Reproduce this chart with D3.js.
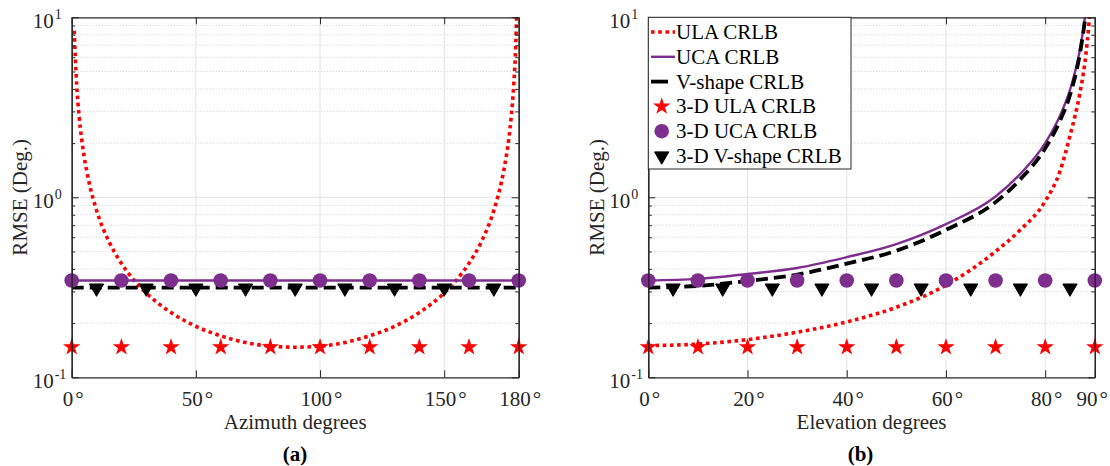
<!DOCTYPE html>
<html><head><meta charset="utf-8">
<script src="https://cdn.jsdelivr.net/npm/d3@7"></script>
<style>
body{margin:0;background:#fff}
text{font-family:"Liberation Serif","Times New Roman",serif}
</style>
</head><body>
<svg id="c" width="1110" height="466"></svg>
<script>
// ---------- data ----------
// Panel (a): azimuth
const azDeg      = [1,2,3,4,5,7,10,15,20,25,30,40,50,60,70,80,90,100,110,120,130,140,150,155,160,165,170,173,175,176,177,178,179,179.5];
const azUlaCrlb  = [8.42,4.21,2.81,2.11,1.69,1.21,0.847,0.568,0.43,0.348,0.294,0.229,0.192,0.170,0.156,0.149,0.147,0.149,0.156,0.170,0.192,0.229,0.294,0.348,0.43,0.568,0.847,1.21,1.69,2.11,2.81,4.21,8.42,16.8];
const azLineDeg  = [0,180];
const azUcaCrlb  = [0.345,0.345];
const azVCrlb    = [0.315,0.315];
const azMarkDeg  = [0,20,40,60,80,100,120,140,160,180];
const az3dUla    = [0.147,0.147,0.147,0.147,0.147,0.147,0.147,0.147,0.147,0.147];
const az3dUca    = [0.345,0.345,0.345,0.345,0.345,0.345,0.345,0.345,0.345,0.345];
const azVMarkDeg = [10,30,50,70,90,110,130,150,170];
const az3dV      = [0.313,0.313,0.313,0.313,0.313,0.313,0.313,0.313,0.313];

// Panel (b): elevation
const elDeg      = [0,10,20,30,40,50,60,70,75,80,83,85,87,88,88.5,89,89.5];
const elUlaCrlb  = [0.150,0.153,0.162,0.178,0.203,0.245,0.325,0.50,0.66,0.95,1.4,2.2,3.8,5.6,7.4,10.6,15];
const elUcaCrlb  = [0.345,0.352,0.375,0.405,0.465,0.55,0.71,1.01,1.35,2.0,2.85,3.95,6.6,9.9,13,17,25];
const elVCrlb    = [0.315,0.322,0.343,0.372,0.428,0.505,0.66,0.94,1.26,1.87,2.67,3.7,6.3,9.6,12.6,16.5,24];
const elMarkDeg  = [0,10,20,30,40,50,60,70,80,90];
const el3dUla    = [0.147,0.147,0.147,0.147,0.147,0.147,0.147,0.147,0.147,0.147];
const el3dUca    = [0.345,0.345,0.345,0.345,0.345,0.345,0.345,0.345,0.345,0.345];
const elVMarkDeg = [5,15,25,35,45,55,65,75,85];
const el3dV      = [0.313,0.313,0.313,0.313,0.313,0.313,0.313,0.313,0.313];

const azTicks = [0,50,100,150,180];
const elTicks = [0,20,40,60,80,90];
const yTicks  = [0.1,1,10];
const yTickExp = ["-1","0","1"];

const legendNames = ["ULA CRLB","UCA CRLB","V-shape CRLB","3-D ULA CRLB","3-D UCA CRLB","3-D V-shape CRLB"];

// ---------- styles ----------
const RED="#ff0000", PURPLE="#7E2F8E", BLACK="#000000", AX="#262626";
const styles = {
  ula:{stroke:RED, width:3.6, dash:"3.6,3.6"},
  uca:{stroke:PURPLE, width:2.4, dash:null},
  v:{stroke:BLACK, width:3.8, dash:"12,6"}
};

const svg = d3.select("#c");
const y = d3.scaleLog().domain([0.1,10]).range([377.3,17.3]);
const FS = 21;

const starSym = d3.symbol(d3.symbolStar, 58);
const triSym  = d3.symbol(d3.symbolTriangle, 88);

function panel(cfg){
  const {x, xTicks, xLabel, tag, tagX, id} = cfg;
  const [x0,x1] = x.range();
  const [yb,yt] = y.range();
  const g = svg.append("g");

  g.append("clipPath").attr("id","clip"+id).append("rect")
    .attr("x",x0).attr("y",yt).attr("width",x1-x0).attr("height",yb-yt);

  // minor horizontal grid (dotted)
  const minor=[];
  for(let k=-1;k<1;k++) for(let m=2;m<=9;m++) minor.push(m*Math.pow(10,k));
  g.append("g").selectAll("line").data(minor).join("line")
    .attr("x1",x0).attr("x2",x1).attr("y1",d=>y(d)).attr("y2",d=>y(d))
    .attr("stroke","#cfcfcf").attr("stroke-width",1).attr("stroke-dasharray","1,2");
  // major horizontal grid
  g.append("g").selectAll("line").data([1]).join("line")
    .attr("x1",x0).attr("x2",x1).attr("y1",d=>y(d)).attr("y2",d=>y(d))
    .attr("stroke","#e3e3e3").attr("stroke-width",1);
  // vertical grid
  g.append("g").selectAll("line").data(xTicks).join("line")
    .attr("x1",d=>x(d)).attr("x2",d=>x(d)).attr("y1",yt).attr("y2",yb)
    .attr("stroke","#e3e3e3").attr("stroke-width",1);

  // lines
  const line = d3.line().x(d=>x(d[0])).y(d=>y(d[1])).curve(d3.curveMonotoneX);
  const lg = g.append("g").attr("clip-path","url(#clip"+id+")");
  cfg.lines.forEach(L=>{
    const st = styles[L.style];
    lg.append("path").datum(L.xs.map((v,i)=>[v,L.ys[i]]))
      .attr("d",line).attr("fill","none")
      .attr("stroke",st.stroke).attr("stroke-width",st.width)
      .attr("stroke-dasharray",st.dash).attr("stroke-linecap","butt");
  });

  // markers
  const mg = g.append("g");
  mg.selectAll(".star").data(cfg.stars.xs.map((v,i)=>[v,cfg.stars.ys[i]])).join("path")
    .attr("d",starSym).attr("fill",RED).attr("stroke",RED).attr("stroke-width",1.2).attr("stroke-linejoin","miter")
    .attr("transform",d=>`translate(${x(d[0])},${y(d[1])})`);
  mg.selectAll(".circ").data(cfg.circles.xs.map((v,i)=>[v,cfg.circles.ys[i]])).join("circle")
    .attr("cx",d=>x(d[0])).attr("cy",d=>y(d[1])).attr("r",7.3).attr("fill",PURPLE);
  mg.selectAll(".tri").data(cfg.tris.xs.map((v,i)=>[v,cfg.tris.ys[i]])).join("path")
    .attr("d",triSym).attr("fill",BLACK).attr("stroke",BLACK).attr("stroke-width",1)
    .attr("transform",d=>`translate(${x(d[0])},${y(d[1])}) rotate(180)`);

  // axes (inward ticks)
  const axB = d3.axisBottom(x).tickValues(xTicks).tickSizeInner(-7).tickSizeOuter(0)
    .tickPadding(14).tickFormat(d=>d+"°");
  const axT = d3.axisTop(x).tickValues(xTicks).tickSizeInner(-7).tickSizeOuter(0).tickFormat(()=>"");
  const axL = d3.axisLeft(y).tickValues(yTicks).tickSizeInner(-7).tickSizeOuter(0).tickFormat(()=>"");
  const axR = d3.axisRight(y).tickValues(yTicks).tickSizeInner(-7).tickSizeOuter(0).tickFormat(()=>"");
  const axLm = d3.axisLeft(y).tickValues(minor).tickSizeInner(-3.5).tickSizeOuter(0).tickFormat(()=>"");
  const axRm = d3.axisRight(y).tickValues(minor).tickSizeInner(-3.5).tickSizeOuter(0).tickFormat(()=>"");

  const gb = g.append("g").attr("transform",`translate(0,${yb})`).call(axB);
  g.append("g").attr("transform",`translate(0,${yt})`).call(axT);
  g.append("g").attr("transform",`translate(${x0},0)`).call(axL);
  g.append("g").attr("transform",`translate(${x1},0)`).call(axR);
  g.append("g").attr("transform",`translate(${x0},0)`).call(axLm);
  g.append("g").attr("transform",`translate(${x1},0)`).call(axRm);
  g.selectAll(".domain").attr("stroke",AX).attr("stroke-width",1.2);
  g.selectAll(".tick line").attr("stroke",AX).attr("stroke-width",1);
  const tt = gb.selectAll(".tick text").attr("font-size",FS).attr("fill",AX)
    .attr("font-family",'"Liberation Serif",serif');
  // split label into number + slightly spaced degree sign
  tt.each(function(d){
    const t = d3.select(this); t.text(null);
    t.append("tspan").text(d);
    t.append("tspan").attr("dx",2).text("°");
    t.attr("dx", d===xTicks[xTicks.length-1] && id==="b" ? -3 : 1);
  });

  // y tick labels 10^k
  yTicks.forEach((v,i)=>{
    g.append("text").attr("x",x0-18).attr("y",y(v)+11)
      .attr("text-anchor","end").attr("font-size",FS).attr("fill",AX).text("10");
    g.append("text").attr("x",x0-17).attr("y",y(v)+2)
      .attr("font-size",14).attr("fill",AX).text(yTickExp[i]);
  });

  // axis labels
  g.append("text").attr("transform",`translate(${x0-44.7},${(yt+yb)/2}) rotate(-90)`)
    .attr("text-anchor","middle").attr("font-size",FS).attr("fill",AX).text("RMSE (Deg.)");
  g.append("text").attr("x",(x0+x1)/2).attr("y",429)
    .attr("text-anchor","middle").attr("font-size",FS).attr("fill",AX).text(xLabel);
  g.append("text").attr("x",tagX).attr("y",461)
    .attr("text-anchor","middle").attr("font-size",FS).attr("font-weight","bold").attr("fill","#000").text(tag);
  return g;
}

const xA = d3.scaleLinear().domain([0,180]).range([71.7,518.7]);
const xB = d3.scaleLinear().domain([0,90]).range([648.3,1094.8]);

panel({id:"a", x:xA, xTicks:azTicks, xLabel:"Azimuth degrees", tag:"(a)", tagX:295,
  lines:[{style:"ula",xs:azDeg,ys:azUlaCrlb},{style:"uca",xs:azLineDeg,ys:azUcaCrlb},{style:"v",xs:azLineDeg,ys:azVCrlb}],
  stars:{xs:azMarkDeg,ys:az3dUla}, circles:{xs:azMarkDeg,ys:az3dUca}, tris:{xs:azVMarkDeg,ys:az3dV}});

panel({id:"b", x:xB, xTicks:elTicks, xLabel:"Elevation degrees", tag:"(b)", tagX:860.5,
  lines:[{style:"ula",xs:elDeg,ys:elUlaCrlb},{style:"uca",xs:elDeg,ys:elUcaCrlb},{style:"v",xs:elDeg,ys:elVCrlb}],
  stars:{xs:elMarkDeg,ys:el3dUla}, circles:{xs:elMarkDeg,ys:el3dUca}, tris:{xs:elVMarkDeg,ys:el3dV}});

// ---------- legend ----------
const lgX = 648.3, lgY = 17.3, rowH = 24.8, row0 = 32;
const leg = svg.append("g");
leg.append("rect").attr("x",lgX).attr("y",lgY).attr("width",202.7).attr("height",151.7)
  .attr("fill","#fff").attr("stroke",AX).attr("stroke-width",1);
const lineKeys = ["ula","uca","v"];
legendNames.forEach((name,i)=>{
  const cy = row0 + i*rowH;
  if(i<3){
    const st = styles[lineKeys[i]];
    leg.append("line").attr("x1",651).attr("x2",i===2?668:675).attr("y1",cy).attr("y2",cy)
      .attr("stroke",st.stroke).attr("stroke-width",st.width).attr("stroke-dasharray",i===2?null:st.dash);
  } else if(i===3){
    leg.append("path").attr("d",starSym).attr("fill",RED).attr("stroke",RED).attr("stroke-width",1.2).attr("transform",`translate(661.7,${cy})`);
  } else if(i===4){
    leg.append("circle").attr("cx",661.7).attr("cy",cy).attr("r",7.3).attr("fill",PURPLE);
  } else {
    leg.append("path").attr("d",triSym).attr("fill",BLACK).attr("stroke",BLACK).attr("stroke-width",1).attr("transform",`translate(661.7,${cy}) rotate(180)`);
  }
  leg.append("text").attr("x",676).attr("y",cy+7).attr("font-size",FS).attr("fill","#000").text(name);
});
</script>
</body></html>
